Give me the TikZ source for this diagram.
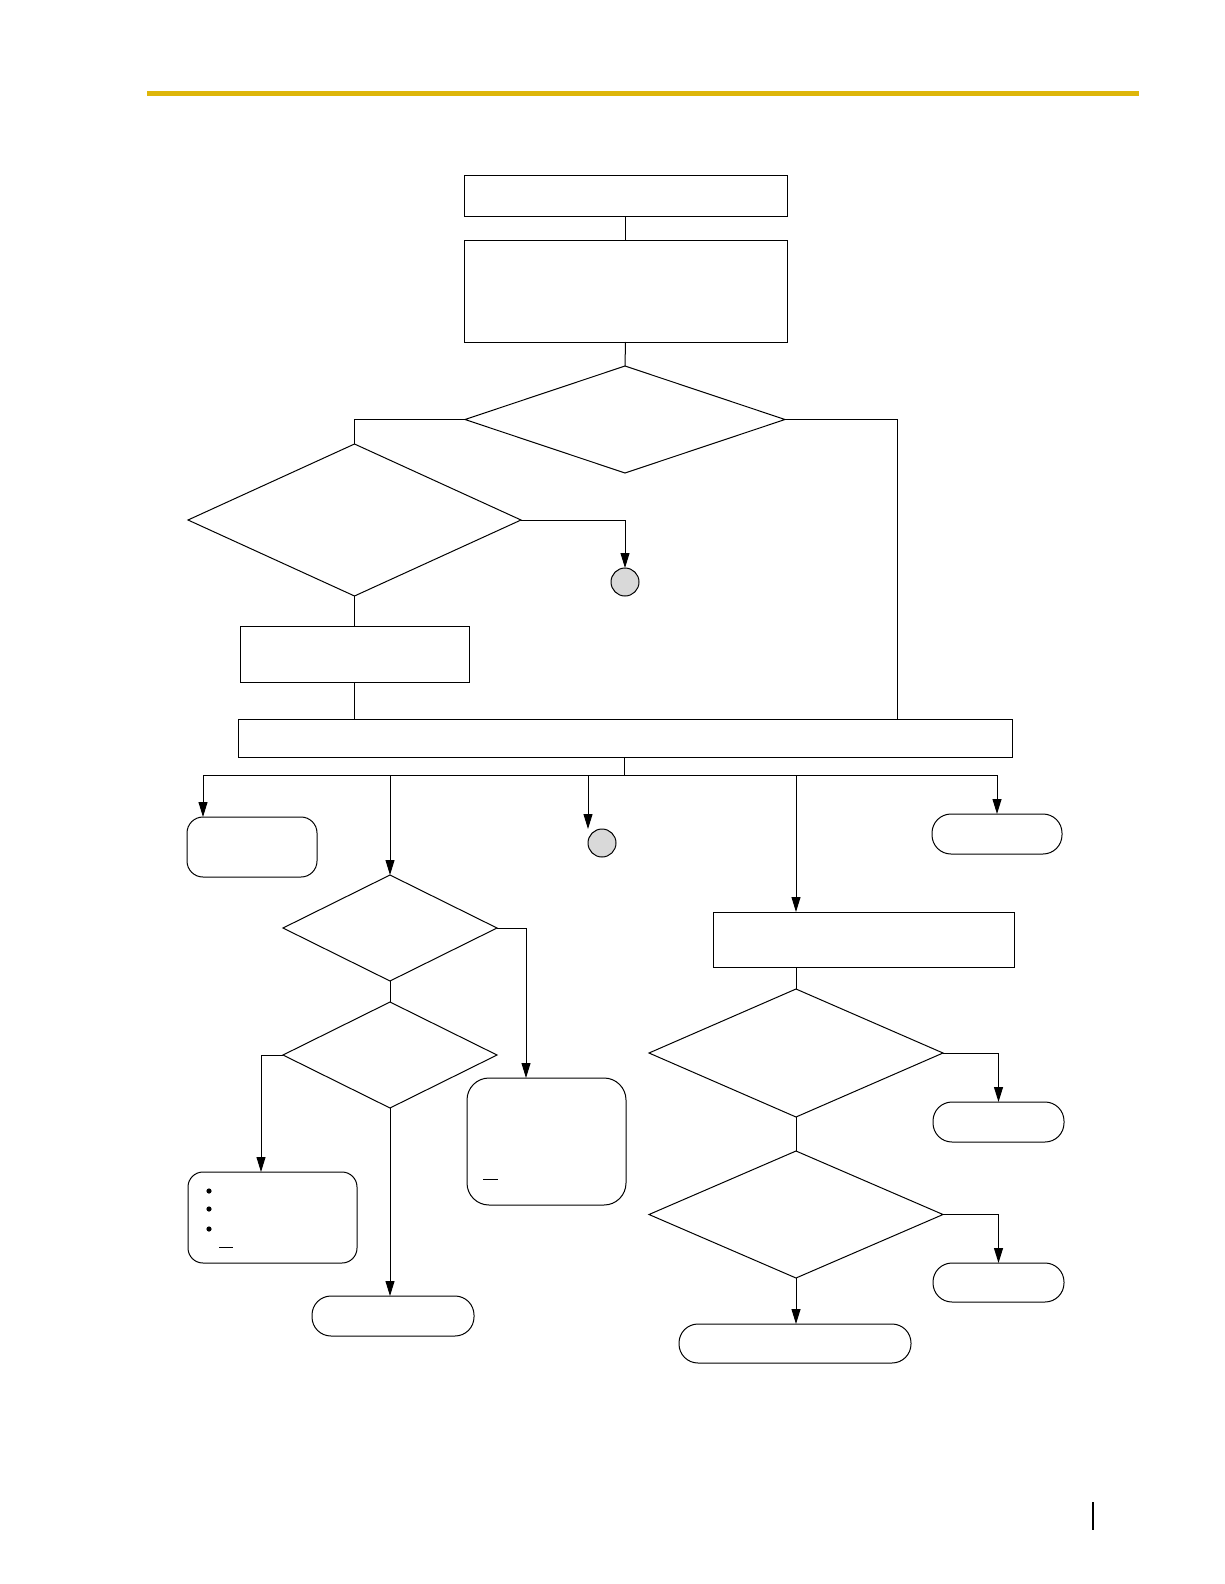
\documentclass[tikz,border=0pt]{standalone}
\usetikzlibrary{shapes.geometric,arrows.meta,calc}
\definecolor{rulegold}{RGB}{222,182,10}
\definecolor{connfill}{RGB}{217,217,217}
\begin{document}
\begin{tikzpicture}[x=1pt,y=-1pt,
  every node/.style={inner sep=0pt,outer sep=0pt},
  line width=1pt,
  procbox/.style={draw,rectangle},
  endbox/.style={draw,rectangle,rounded corners=#1},
  endbox/.default=16pt,
  decide/.style={draw,diamond},
  connector/.style={draw,circle,fill=connfill,minimum size=28pt},
  arr/.style={-{Triangle[length=15pt,width=9pt]}}]
\path[use as bounding box,fill=white] (0,0) rectangle (1224,1584);

% header rule and page mark
\draw[rulegold,line width=5pt] (147,93.5) -- (1139,93.5);
\draw[line width=2pt] (1093,1502) -- (1093,1530);

% top chain
\node[procbox,minimum width=323pt,minimum height=41pt] (b1) at (625.5,195.5) {};
\node[procbox,minimum width=323pt,minimum height=102pt] (b2) at (625.5,291) {};
\node[decide,minimum width=320pt,minimum height=107pt] (d1) at (625,419.5) {};
\node[decide,minimum width=333pt,minimum height=152pt] (d2) at (354.5,520) {};
\node[connector] (c1) at (625,582) {};
\node[procbox,minimum width=229pt,minimum height=56pt] (b3) at (354.5,654) {};
\node[procbox,minimum width=774pt,minimum height=38pt] (bar) at (625,738) {};
\coordinate (barR) at (897,719);

\draw (b1.south) -- (b2.north);
\draw (b2.south) -- (d1.north);
\draw (d1.west) -| (d2.north);
\draw (d1.east) -| (barR);
\draw[arr] (d2.east) -| (c1.north);
\draw (d2.south) -- (b3.north);
\draw (b3.south) -- (b3.south |- bar.north);

% branch row
\node[endbox=16pt,minimum width=130pt,minimum height=60pt] (r4) at (252,847) {};
\node[connector] (c2) at (602,843) {};
\node[endbox=19pt,minimum width=130pt,minimum height=40pt] (r6) at (997,834) {};
\node[decide,minimum width=214pt,minimum height=106pt] (d3) at (390,928) {};
\node[procbox,minimum width=301pt,minimum height=55pt] (b5) at (863.5,939.5) {};

\coordinate (jb) at (624,775);
\coordinate (k1) at (203,775);
\coordinate (k2) at (390,775);
\coordinate (k3) at (588,775);
\coordinate (k4) at (796,775);
\coordinate (k5) at (997,775);
\draw (bar.south -| jb) -- (jb);
\draw (k1) -- (k5);
\draw[arr] (k1) -- (k1 |- r4.north);
\draw[arr] (k2) -- (d3.north);
\draw[arr] (k3) -- (k3 |- c2.north);
\draw[arr] (k4) -- (k4 |- b5.north);
\draw[arr] (k5) -- (r6.north);

% left column
\node[decide,minimum width=214pt,minimum height=106pt] (d4) at (390,1055) {};
\node[endbox=22pt,minimum width=159pt,minimum height=127pt] (r7) at (546.5,1141.5) {};
\node[endbox=15pt,minimum width=169pt,minimum height=91pt] (r8) at (272.5,1217.5) {};
\node[endbox=19pt,minimum width=162pt,minimum height=40pt] (r9) at (393,1316) {};
\coordinate (k6) at (526,928);
\coordinate (k7) at (261,1055);

\draw (d3.south) -- (d4.north);
\draw (d3.east) -- (k6);
\draw[arr] (k6) -- (k6 |- r7.north);
\draw (d4.west) -- (k7);
\draw[arr] (k7) -- (k7 |- r8.north);
\draw[arr] (d4.south) -- (d4.south |- r9.north);

% marks inside boxes
\foreach \yy in {1191,1209,1229} \fill (209,\yy) circle (2.6pt);
\draw (219,1247) -- (233,1247);
\draw (483,1179) -- (498,1179);

% right column
\node[decide,minimum width=294pt,minimum height=128pt] (d5) at (796,1053) {};
\node[decide,minimum width=294pt,minimum height=127pt] (d6) at (796,1214.5) {};
\node[endbox=19pt,minimum width=131pt,minimum height=40pt] (r10) at (998.5,1122) {};
\node[endbox=19pt,minimum width=131pt,minimum height=39pt] (r11) at (998.5,1282.5) {};
\node[endbox=19pt,minimum width=232pt,minimum height=39pt] (r12) at (795,1343.5) {};

\draw (d5.north |- b5.south) -- (d5.north);
\draw[arr] (d5.east) -| (r10.north);
\draw (d5.south) -- (d6.north);
\draw[arr] (d6.east) -| (r11.north);
\draw[arr] (d6.south) -- (d6.south |- r12.north);
\end{tikzpicture}
\end{document}
